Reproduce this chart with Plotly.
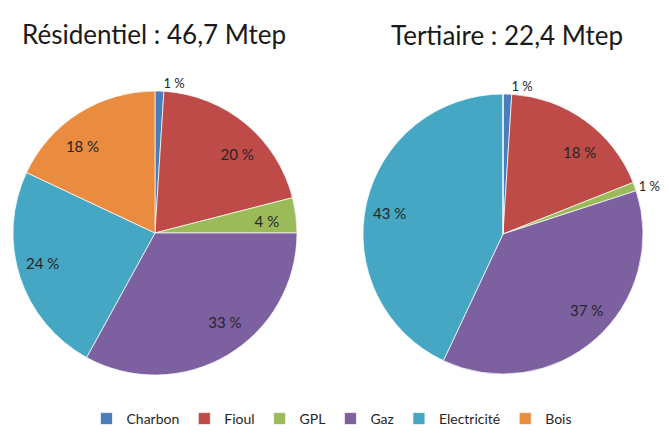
import plotly.graph_objects as go

categories = ["Charbon", "Fioul", "GPL", "Gaz", "Electricité", "Bois"]
residentiel = [1, 20, 4, 33, 24, 18]
tertiaire = [1, 18, 1, 37, 43, 0]
titles = ["Résidentiel : 46,7 Mtep", "Tertiaire : 22,4 Mtep"]
colors = ["#4A7EBB", "#BE4B48", "#9BBB59", "#7D60A0", "#45A7C4", "#E98C3F"]

# page is offset by the default 8px body margin; keep the page free of scrollbars
OFF = 8
W, H = 669 - OFF, 437 - 2 * OFF
FONT = "Lato"
TXT = "#262626"


def sq_domain(cx, cy, r):
    cx, cy = cx - OFF, cy - OFF
    return dict(x=[(cx - r) / W, (cx + r) / W], y=[1 - (cy + r) / H, 1 - (cy - r) / H])


def big_texts(vals):
    return [f"{v} %" if v > 1 else "" for v in vals]


def small_texts(vals):
    return [f"{v} %" if 0 < v <= 1 else "" for v in vals]


pies = [
    (residentiel, (155, 233, 142)),
    (tertiaire, (503, 234, 140)),
]

fig = go.Figure()
for i, (vals, (cx, cy, r)) in enumerate(pies):
    # main pie, with the small slices labelled outside
    fig.add_trace(go.Pie(
        labels=categories,
        values=vals,
        text=small_texts(vals),
        textinfo="text",
        textposition="outside",
        sort=False,
        direction="clockwise",
        rotation=0,
        domain=sq_domain(cx, cy, r),
        marker=dict(colors=colors, line=dict(color="rgba(255,255,255,0.7)", width=1)),
        outsidetextfont=dict(family=FONT, size=13, color=TXT),
        hoverinfo="label+percent",
        showlegend=(i == 0),
    ))
    # transparent inner pie carrying the labels of the large slices
    fig.add_trace(go.Pie(
        labels=categories,
        values=vals,
        text=big_texts(vals),
        textinfo="text",
        textposition="outside",
        sort=False,
        direction="clockwise",
        rotation=0,
        domain=sq_domain(cx, cy, r * 0.675),
        marker=dict(colors=["rgba(0,0,0,0)"] * len(vals), line=dict(width=0)),
        outsidetextfont=dict(family=FONT, size=15, color=TXT),
        hoverinfo="skip",
        showlegend=False,
    ))

for t, (px, py) in zip(titles, [(154, 34), (507, 35)]):
    fig.add_annotation(text=t, x=(px - OFF) / W, y=1 - (py - OFF) / H, xref="paper", yref="paper",
                       xanchor="center", yanchor="middle", showarrow=False,
                       font=dict(family=FONT, size=26, color="#1a1a1a"))

fig.update_layout(
    width=W, height=H,
    margin=dict(l=0, r=0, t=0, b=0, autoexpand=False),
    paper_bgcolor="white",
    showlegend=True,
    legend=dict(orientation="h", x=(332 - OFF) / W, xanchor="center",
                y=1 - (419 - OFF) / H, yanchor="middle",
                font=dict(family=FONT, size=14, color=TXT),
                itemwidth=30, tracegroupgap=0, bgcolor="rgba(0,0,0,0)"),
)

fig.write_html("out.html")
